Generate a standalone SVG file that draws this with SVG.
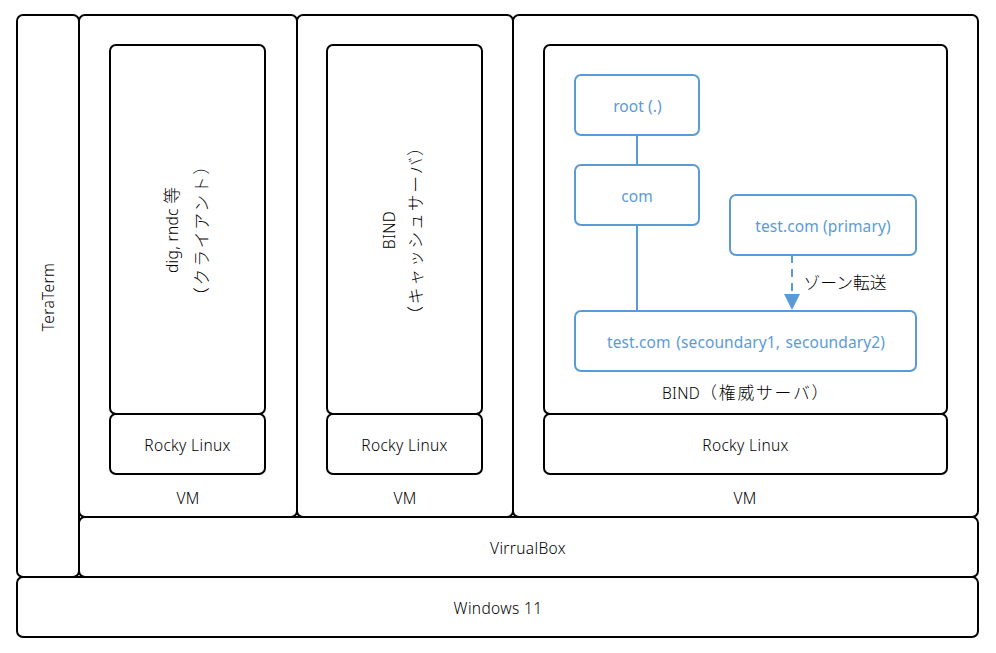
<svg xmlns="http://www.w3.org/2000/svg" width="996" height="653" viewBox="0 0 996 653">
<style>
rect{fill:#fff;stroke:#000;stroke-width:2}
rect.b{stroke:#5b9bd5}
text{font-family:"Noto Sans","Noto Sans CJK JP",sans-serif;font-size:15.5px;font-weight:300;letter-spacing:.35px;text-anchor:middle;fill:#000}
text.b{fill:#5b9bd5;font-weight:400;letter-spacing:.1px}
tspan.j{font-size:16.8px;letter-spacing:0}
tspan.k{font-size:16.8px;letter-spacing:1.8px}
.c{fill:none;stroke:#5b9bd5;stroke-width:2}
</style>
<defs><marker id="arr" markerUnits="userSpaceOnUse" markerWidth="18" markerHeight="16" refX="16" refY="8" orient="auto"><path d="M0 0L16 8L0 16Z" fill="#5b9bd5"/></marker></defs>
<g id="teraterm"><rect x="17" y="15" width="62" height="562" rx="6"/><text transform="translate(54 297) rotate(-90)">TeraTerm</text></g>
<g id="vm1"><rect x="79" y="15" width="218" height="502" rx="6"/><text x="188" y="503.500">VM</text></g>
<g id="vm2"><rect x="297" y="15" width="216" height="502" rx="6"/><text x="405" y="503.500">VM</text></g>
<g id="vm3"><rect x="513" y="15" width="465" height="502" rx="6"/><text x="745" y="503.500">VM</text></g>
<g id="virtualbox"><rect x="79" y="517" width="899" height="60" rx="6"/><text x="528" y="553.500">VirrualBox</text></g>
<g id="windows"><rect x="17" y="577" width="961" height="60" rx="6"/><text x="498" y="613.500">Windows 11</text></g>
<g id="client"><rect x="110" y="45" width="155" height="369" rx="6"/><text transform="translate(178 230) rotate(-90)">dig, rndc <tspan class="j">等</tspan></text><text transform="translate(208 230) rotate(-90)"><tspan class="k">（クライアント）</tspan></text></g>
<g id="rocky1"><rect x="110" y="414" width="155" height="60" rx="6"/><text x="187.500" y="450.500">Rocky Linux</text></g>
<g id="cache"><rect x="327" y="45" width="155" height="369" rx="6"/><text transform="translate(395 230) rotate(-90)">BIND</text><text transform="translate(422 230) rotate(-90)"><tspan class="k">（キャッシュサーバ）</tspan></text></g>
<g id="rocky2"><rect x="327" y="414" width="155" height="60" rx="6"/><text x="404.500" y="450.500">Rocky Linux</text></g>
<g id="auth"><rect x="544" y="45" width="403" height="369" rx="6"/><text x="746" y="398.500">BIND<tspan class="k">（権威サーバ）</tspan></text></g>
<g id="rocky3"><rect x="544" y="414" width="403" height="60" rx="6"/><text x="745.500" y="450.500">Rocky Linux</text></g>
<g id="connectors">
<path class="c" d="M637 135V165"/>
<path class="c" d="M637 225V311"/>
<path class="c" d="M792 255V310" stroke-dasharray="8 6" marker-end="url(#arr)"/>
</g>
<g id="root"><rect class="b" x="575" y="75" width="124" height="60" rx="6"/><text class="b" x="637.500" y="111.500">root (.)</text></g>
<g id="com"><rect class="b" x="575" y="165" width="124" height="60" rx="6"/><text class="b" x="637" y="201.500">com</text></g>
<g id="primary"><rect class="b" x="730" y="195" width="186" height="60" rx="6"/><text class="b" x="823" y="231.500">test.com (primary)</text></g>
<g id="secondary"><rect class="b" x="575" y="311" width="341" height="60" rx="6"/><text class="b" x="746" y="347.500" word-spacing="1.5">test.com (secoundary1, secoundary2)</text></g>
<text x="845" y="289"><tspan class="j">ゾーン転送</tspan></text>
</svg>
